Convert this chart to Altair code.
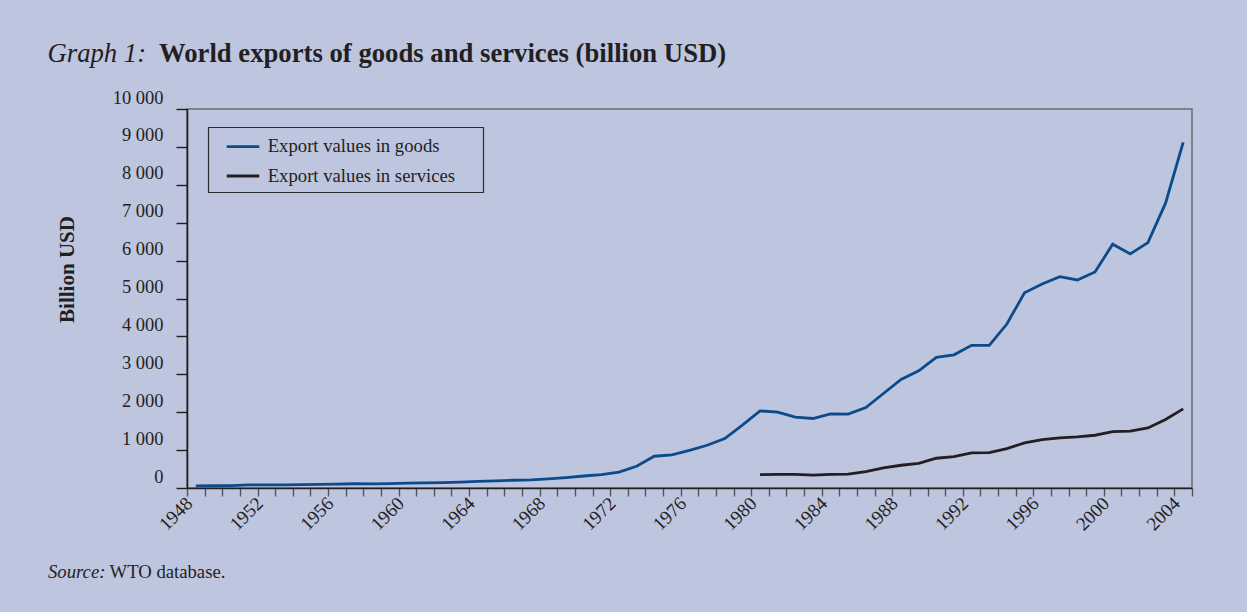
import altair as alt
import pandas as pd

# ---------------- data (billion USD) ----------------
goods_label = "Export values in goods"
services_label = "Export values in services"

goods_years = list(range(1948, 2005))
goods_values = [58, 59, 62, 82, 80, 84, 87, 94, 104, 112,
                108, 116, 130, 135, 142, 157, 175, 188, 205, 215,
                241, 274, 317, 352, 420, 575, 838, 873, 995, 1128,
                1305, 1660, 2035, 2000, 1868, 1834, 1956, 1948, 2124, 2494,
                2864, 3092, 3446, 3515, 3763, 3763, 4326, 5153, 5383, 5577,
                5489, 5700, 6432, 6176, 6475, 7516, 9117]

services_years = list(range(1980, 2005))
services_values = [354, 360, 357, 340, 357, 366, 433, 529, 600, 652,
                   785, 829, 925, 934, 1040, 1190, 1278, 1322, 1348, 1392,
                   1490, 1498, 1586, 1806, 2088]

x_tick_years = list(range(1948, 2006))
y_tick_values = list(range(0, 10001, 1000))

title_prefix = "Graph 1:"
title_main = "World exports of goods and services (billion USD)"
y_title = "Billion USD"
source_prefix = "Source:"
source_main = "WTO database."

series_names = [goods_label, services_label]
series_colors = ["#0B4A8B", "#231F20"]

# ---------------- styling ----------------
serif = "Liberation Serif"
ink = "#231F20"
bg = "#BEC5DF"

df = pd.concat([
    pd.DataFrame({"year": goods_years, "value": goods_values, "series": goods_label}),
    pd.DataFrame({"year": services_years, "value": services_values, "series": services_label}),
], ignore_index=True)

lines = alt.Chart(df).transform_calculate(
    pos="datum.year + 0.5"
).mark_line(strokeWidth=2.8, clip=False).encode(
    x=alt.X("pos:Q",
            scale=alt.Scale(domain=[1948, 2005], nice=False, zero=False),
            axis=alt.Axis(values=x_tick_years,
                          labelExpr="datum.value % 4 == 0 ? '' + datum.value : ''",
                          title=None, grid=False,
                          labelAngle=315, labelAlign="right", labelBaseline="middle",
                          labelPadding=4, labelOffset=2,
                          labelFont=serif, labelFontSize=19, labelColor=ink,
                          labelOverlap=False, labelFlush=False, labelBound=False,
                          tickSize=8, tickWidth=1.4, tickColor="#555558",
                          domainColor=ink, domainWidth=1.6)),
    y=alt.Y("value:Q",
            scale=alt.Scale(domain=[0, 10000], nice=False),
            axis=alt.Axis(values=y_tick_values,
                          labelExpr="replace(format(datum.value, ','), ',', ' ')",
                          title=y_title, grid=False,
                          titleFont=serif, titleFontSize=21, titleFontWeight="bold",
                          titleColor=ink, titleAngle=270, titleAlign="center",
                          titleBaseline="middle", titleX=-120, titleY=160,
                          labelFont=serif, labelFontSize=18.5, labelColor=ink,
                          labelPadding=13, labelOffset=-12,
                          labelOverlap=False, labelFlush=False, labelBound=False,
                          tickSize=11, tickWidth=1.4, tickColor=ink,
                          domainColor=ink, domainWidth=1.6)),
    color=alt.Color("series:N",
                    scale=alt.Scale(domain=series_names, range=series_colors),
                    legend=None),
)

one = pd.DataFrame({"k": [0]})

# ---------------- legend (drawn as annotation) ----------------
legend_box = alt.Chart(one).mark_rect(
    fillOpacity=0, stroke="#2B2B2B", strokeWidth=1.2
).encode(x=alt.value(21.5), x2=alt.value(296.5), y=alt.value(18.5), y2=alt.value(83.5))

legend_layers = []
for name, color, ypos in zip(series_names, series_colors, [37.7, 67.0]):
    ldf = pd.DataFrame({"series": [name]})
    legend_layers.append(
        alt.Chart(ldf).mark_rule(strokeWidth=2.8).encode(
            x=alt.value(39.7), x2=alt.value(72.3), y=alt.value(ypos),
            color=alt.value(color))
    )
    legend_layers.append(
        alt.Chart(ldf).mark_text(align="left", baseline="middle", font=serif,
                                 fontSize=18.7, color=ink).encode(
            text="series:N", x=alt.value(80.7), y=alt.value(ypos - 0.5))
    )

# ---------------- title and source ----------------
def text_layer(txt, x, y, size, style="normal", weight="normal"):
    return alt.Chart(pd.DataFrame({"t": [txt]})).mark_text(
        align="left", baseline="alphabetic", font=serif, fontSize=size,
        fontStyle=style, fontWeight=weight, color=ink
    ).encode(text="t:N", x=alt.value(x), y=alt.value(y))

title1 = text_layer(title_prefix, -139.5, -47, 26.7, style="italic")
title2 = text_layer(title_main, -28, -47, 26.7, weight="bold")
src1 = text_layer(source_prefix, -139, 468.5, 18.7, style="italic")
src2 = text_layer(source_main, -77.5, 468.5, 18.7)

chart = alt.layer(
    lines, legend_box, *legend_layers, title1, title2, src1, src2
).properties(
    width=1005, height=379,
    autosize=alt.AutoSizeParams(type="none"),
    padding={"left": 187, "top": 109, "right": 55, "bottom": 124},
    background=bg,
).configure_view(
    stroke="#6B6B70", strokeWidth=1.5
)

chart.save("out.html", embed_options={"renderer": "svg", "actions": False})
